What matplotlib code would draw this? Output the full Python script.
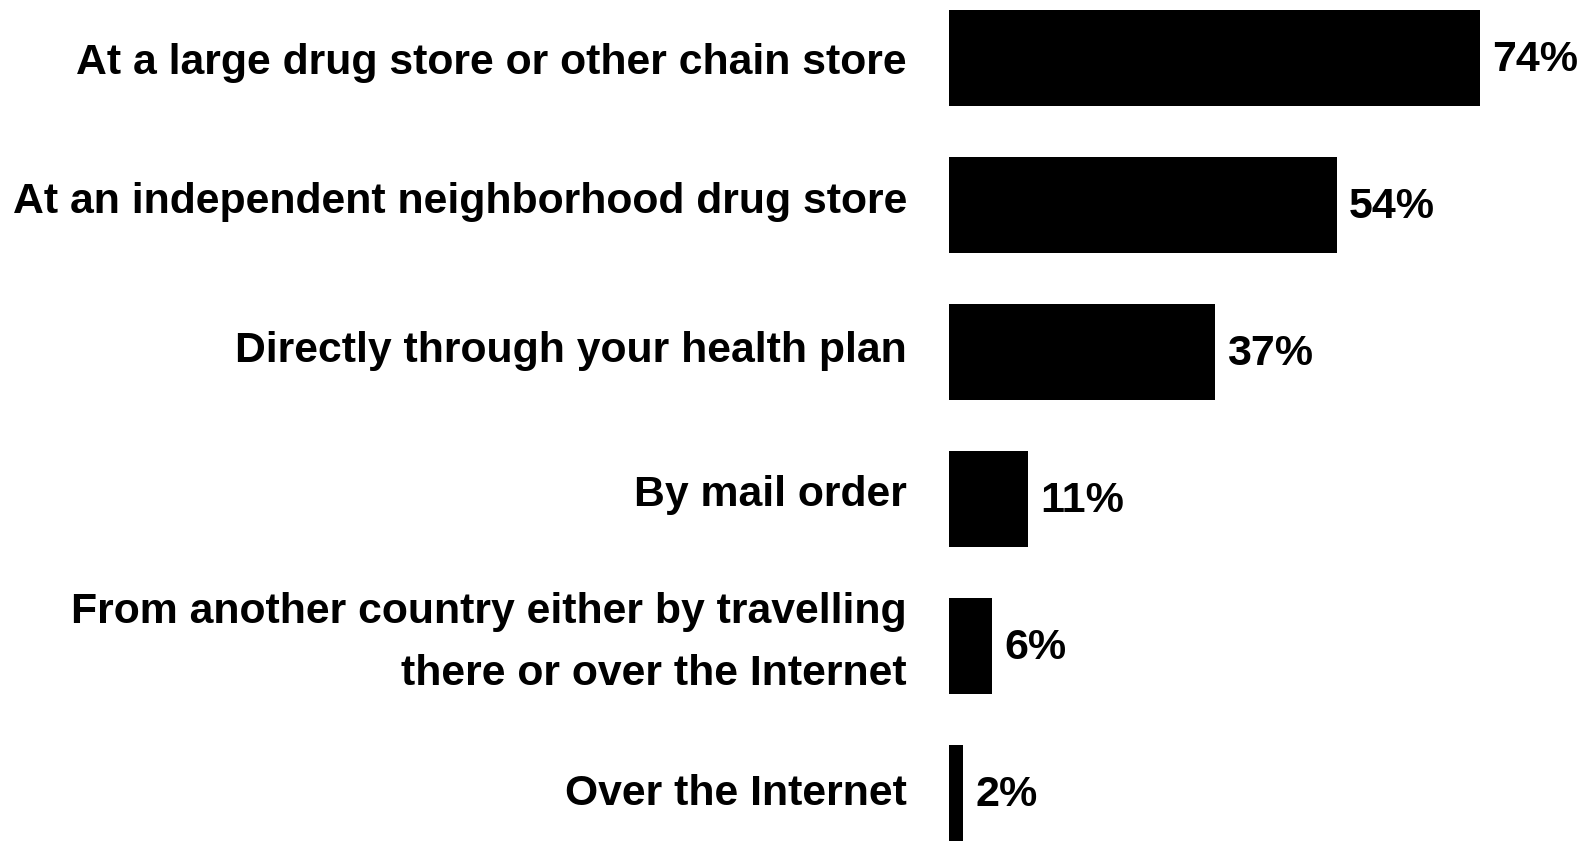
import matplotlib.pyplot as plt

# where people get their prescriptions filled (% of respondents)
places = [
    "At a large drug store or other chain store",
    "At an independent neighborhood drug store",
    "Directly through your health plan",
    "By mail order",
    "From another country either by travelling\nthere or over the Internet",
    "Over the Internet",
]
shares = [74, 54, 37, 11, 6, 2]

def main():
    plt.rcParams['font.family'] = ['Liberation Sans', 'DejaVu Sans']

    fig = plt.figure(figsize=(15.87, 8.41), dpi=100)
    ax = fig.add_axes([949 / 1587, 0, 1 - 949 / 1587, 1])

    pos = list(range(len(places)))
    ax.barh(pos, shares, height=0.653, color='black')

    # value labels just right of each bar
    for y, v in zip(pos, shares):
        ax.annotate(f"{v}%", xy=(v, y), xytext=(12.5, -13), textcoords='offset pixels',
                    va='baseline', ha='left', fontsize=31, fontweight='bold')

    # category labels, one text per line so the line gap is exact
    line_gap = 62
    drop = [16, 8, 10, 7, 8, 12]  # baseline below bar centre, px
    for y, name, d in zip(pos, places, drop):
        lines = name.split("\n")
        n = len(lines)
        for k, line in enumerate(lines):
            dy = -d - (k - (n - 1) / 2) * line_gap
            ax.annotate(line, xy=(0, y), xytext=(-42, dy), textcoords='offset pixels',
                        va='baseline', ha='right', fontsize=30.8, fontweight='bold',
                        annotation_clip=False)

    ax.set_yticks([])
    ax.set_xticks([])
    ax.set_xlim(0, 88.9)
    ax.set_ylim(5.3265, -0.3945)
    for s in ax.spines.values():
        s.set_visible(False)

    fig.savefig("out.png", dpi=100)
    plt.close()

if __name__ == "__main__":
    main()
